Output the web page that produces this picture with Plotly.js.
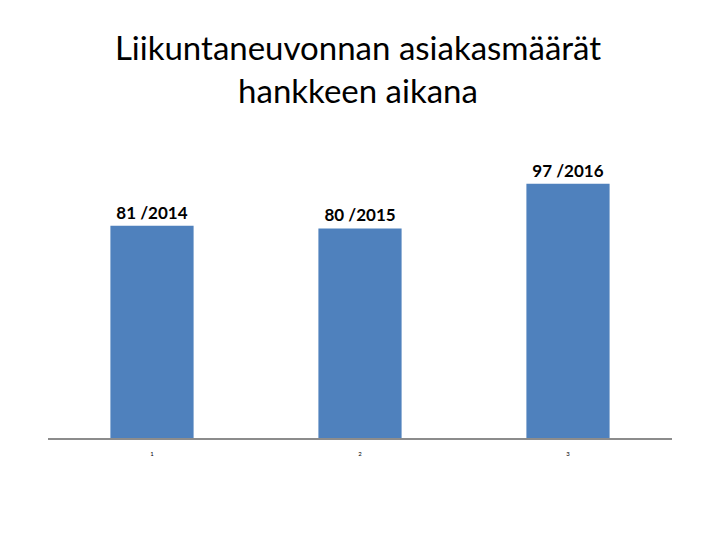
<!DOCTYPE html>
<html>
<head>
<meta charset="utf-8">
<script src="https://cdn.plot.ly/plotly-3.0.1.min.js"></script>
<style>
  body { margin: 0; background: #fff; }
  #chart { width: 716px; height: 538px; }
</style>
</head>
<body>
<div id="chart"></div>
<script>
const categories = ['1', '2', '3']
const clients = [81, 80, 97]
const years = ['2014', '2015', '2016']

window.addEventListener('load', () => {
  drawChart()
})

/**
 * Draws the bar chart of client counts per project year
 */
function drawChart () {
  const labels = clients.map((v, i) => v + ' /' + years[i])

  var data = [{
    type: 'bar',
    x: categories,
    y: clients,
    text: labels,
    textposition: 'outside',
    cliponaxis: false,
    textfont: { family: 'Lato, sans-serif', size: 17, color: '#000', weight: 'bold' },
    marker: { color: '#4f81bd' },
    hoverinfo: 'none'
  }]

  var layout = {
    width: 716,
    height: 538,
    margin: { l: 48, r: 44, t: 176, b: 100 },
    paper_bgcolor: '#fff',
    plot_bgcolor: '#fff',
    bargap: 0.6,
    showlegend: false,
    title: {
      text: 'Liikuntaneuvonnan asiakasmäärät<br>hankkeen aikana',
      font: { family: 'Lato, sans-serif', size: 33, color: '#000' },
      x: 0.5,
      xanchor: 'center',
      y: 0.888,
      yanchor: 'top'
    },
    xaxis: {
      type: 'category',
      showline: true,
      linecolor: '#8c8c8c',
      linewidth: 2,
      ticks: 'outside',
      ticklen: 9,
      tickcolor: 'rgba(0,0,0,0)',
      tickfont: { family: 'Lato, sans-serif', size: 6, color: '#000' },
      showgrid: false,
      zeroline: false
    },
    yaxis: {
      range: [0, 100],
      visible: false,
      showgrid: false,
      zeroline: false
    }
  }

  Plotly.newPlot('chart', data, layout, { staticPlot: true })
}
</script>
</body>
</html>
